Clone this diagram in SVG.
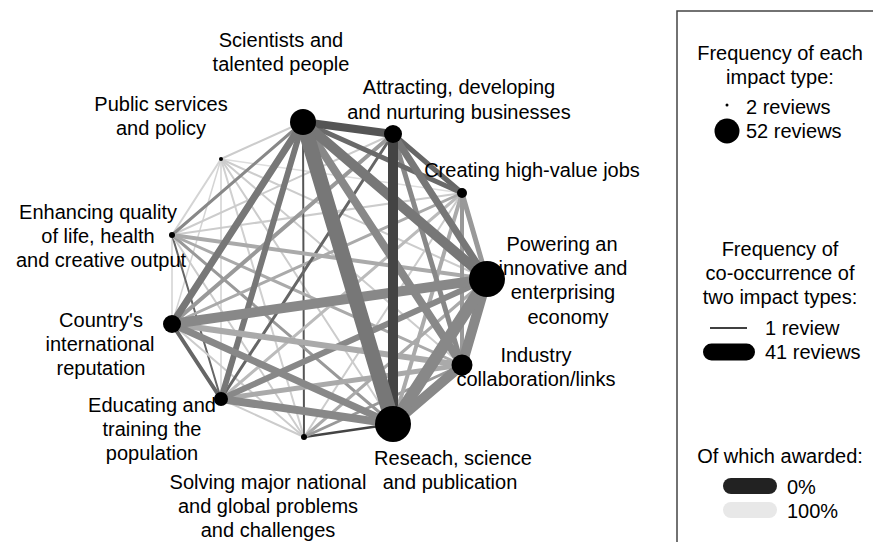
<svg xmlns="http://www.w3.org/2000/svg" width="873" height="542" viewBox="0 0 873 542">
<style>
text{font-family:"Liberation Sans",Arial,sans-serif;font-size:20px;fill:#000}
.lbl{text-anchor:middle}
#edges line{stroke-linecap:round}
.node{fill:#000}
</style>
<rect width="873" height="542" fill="#fff"/>
<g id="edges">
<line x1="221" y1="159" x2="462" y2="193" stroke="#dddddd" stroke-width="1.5"/>
<line x1="221" y1="159" x2="172" y2="235" stroke="#d4d4d4" stroke-width="2"/>
<line x1="221" y1="159" x2="221" y2="399" stroke="#dddddd" stroke-width="2"/>
<line x1="221" y1="159" x2="172" y2="324" stroke="#d4d4d4" stroke-width="1.5"/>
<line x1="221" y1="159" x2="304" y2="437" stroke="#d0d0d0" stroke-width="2"/>
<line x1="221" y1="159" x2="393" y2="424" stroke="#cccccc" stroke-width="2"/>
<line x1="221" y1="159" x2="462" y2="365" stroke="#cccccc" stroke-width="2"/>
<line x1="221" y1="159" x2="487" y2="279" stroke="#cccccc" stroke-width="2"/>
<line x1="221" y1="159" x2="303" y2="122" stroke="#cccccc" stroke-width="2"/>
<line x1="172" y1="235" x2="172" y2="324" stroke="#dddddd" stroke-width="2"/>
<line x1="172" y1="235" x2="221" y2="399" stroke="#666666" stroke-width="2"/>
<line x1="172" y1="235" x2="304" y2="437" stroke="#cccccc" stroke-width="2"/>
<line x1="172" y1="235" x2="462" y2="193" stroke="#cccccc" stroke-width="2"/>
<line x1="172" y1="235" x2="393" y2="134" stroke="#cccccc" stroke-width="2"/>
<line x1="172" y1="324" x2="304" y2="437" stroke="#cccccc" stroke-width="2"/>
<line x1="221" y1="399" x2="304" y2="437" stroke="#cccccc" stroke-width="2"/>
<line x1="462" y1="193" x2="304" y2="437" stroke="#cccccc" stroke-width="2"/>
<line x1="303" y1="122" x2="304" y2="437" stroke="#555555" stroke-width="2"/>
<line x1="393" y1="424" x2="304" y2="437" stroke="#444444" stroke-width="2.5"/>
<line x1="303" y1="122" x2="172" y2="235" stroke="#888888" stroke-width="3"/>
<line x1="172" y1="235" x2="393" y2="424" stroke="#999999" stroke-width="3"/>
<line x1="172" y1="235" x2="462" y2="365" stroke="#aaaaaa" stroke-width="3"/>
<line x1="487" y1="279" x2="304" y2="437" stroke="#aaaaaa" stroke-width="3"/>
<line x1="462" y1="365" x2="304" y2="437" stroke="#999999" stroke-width="3"/>
<line x1="462" y1="193" x2="221" y2="399" stroke="#bbbbbb" stroke-width="3"/>
<line x1="462" y1="193" x2="172" y2="324" stroke="#aaaaaa" stroke-width="3"/>
<line x1="393" y1="134" x2="221" y2="399" stroke="#666666" stroke-width="3"/>
<line x1="172" y1="235" x2="487" y2="279" stroke="#aaaaaa" stroke-width="4"/>
<line x1="393" y1="134" x2="172" y2="324" stroke="#999999" stroke-width="4"/>
<line x1="462" y1="193" x2="393" y2="424" stroke="#aaaaaa" stroke-width="4"/>
<line x1="462" y1="193" x2="462" y2="365" stroke="#999999" stroke-width="4"/>
<line x1="172" y1="324" x2="221" y2="399" stroke="#666666" stroke-width="4"/>
<line x1="393" y1="134" x2="462" y2="193" stroke="#666666" stroke-width="5"/>
<line x1="393" y1="134" x2="462" y2="365" stroke="#888888" stroke-width="5"/>
<line x1="303" y1="122" x2="462" y2="193" stroke="#6a6a6a" stroke-width="5"/>
<line x1="462" y1="193" x2="487" y2="279" stroke="#999999" stroke-width="5"/>
<line x1="221" y1="399" x2="462" y2="365" stroke="#aaaaaa" stroke-width="5"/>
<line x1="303" y1="122" x2="221" y2="399" stroke="#777777" stroke-width="6"/>
<line x1="221" y1="399" x2="487" y2="279" stroke="#888888" stroke-width="6"/>
<line x1="172" y1="324" x2="462" y2="365" stroke="#aaaaaa" stroke-width="6"/>
<line x1="303" y1="122" x2="172" y2="324" stroke="#777777" stroke-width="7"/>
<line x1="393" y1="134" x2="487" y2="279" stroke="#777777" stroke-width="7"/>
<line x1="172" y1="324" x2="393" y2="424" stroke="#888888" stroke-width="7"/>
<line x1="303" y1="122" x2="462" y2="365" stroke="#888888" stroke-width="8"/>
<line x1="221" y1="399" x2="393" y2="424" stroke="#888888" stroke-width="8"/>
<line x1="303" y1="122" x2="393" y2="134" stroke="#555555" stroke-width="8"/>
<line x1="172" y1="324" x2="487" y2="279" stroke="#888888" stroke-width="10"/>
<line x1="487" y1="279" x2="462" y2="365" stroke="#888888" stroke-width="10"/>
<line x1="462" y1="365" x2="393" y2="424" stroke="#888888" stroke-width="10"/>
<line x1="303" y1="122" x2="487" y2="279" stroke="#777777" stroke-width="10"/>
<line x1="393" y1="134" x2="393" y2="424" stroke="#444444" stroke-width="10"/>
<line x1="487" y1="279" x2="393" y2="424" stroke="#888888" stroke-width="12"/>
<line x1="303" y1="122" x2="393" y2="424" stroke="#777777" stroke-width="15"/>
</g>
<g id="n-scientists"><circle class="node" cx="303" cy="122" r="13"/><text class="lbl" x="281" y="47">Scientists and</text><text class="lbl" x="281" y="71">talented people</text></g>
<g id="n-attracting"><circle class="node" cx="393" cy="134" r="9"/><text class="lbl" x="459" y="94">Attracting, developing</text><text class="lbl" x="459" y="119">and nurturing businesses</text></g>
<g id="n-jobs"><circle class="node" cx="462" cy="193" r="5"/><text class="lbl" x="532" y="177">Creating high-value jobs</text></g>
<g id="n-powering"><circle class="node" cx="487" cy="279" r="18"/><text class="lbl" x="562" y="251">Powering an</text><text class="lbl" x="563" y="275">innovative and</text><text class="lbl" x="563" y="299">enterprising</text><text class="lbl" x="568" y="324">economy</text></g>
<g id="n-industry"><circle class="node" cx="462" cy="365" r="10.5"/><text class="lbl" x="536" y="362">Industry</text><text class="lbl" x="536" y="386">collaboration/links</text></g>
<g id="n-research"><circle class="node" cx="393" cy="424" r="18"/><text class="lbl" x="453" y="465">Reseach, science</text><text class="lbl" x="450" y="489">and publication</text></g>
<g id="n-solving"><circle class="node" cx="304" cy="437" r="3"/><text class="lbl" x="268" y="489">Solving major national</text><text class="lbl" x="268" y="513">and global problems</text><text class="lbl" x="268" y="537">and challenges</text></g>
<g id="n-educating"><circle class="node" cx="221" cy="399" r="7"/><text class="lbl" x="152" y="412">Educating and</text><text class="lbl" x="152" y="436">training the</text><text class="lbl" x="152" y="460">population</text></g>
<g id="n-country"><circle class="node" cx="172" cy="324" r="9"/><text class="lbl" x="101" y="327">Country's</text><text class="lbl" x="100" y="351">international</text><text class="lbl" x="101" y="375">reputation</text></g>
<g id="n-quality"><circle class="node" cx="172" cy="235" r="3"/><text class="lbl" x="98" y="219">Enhancing quality</text><text class="lbl" x="98" y="243">of life, health</text><text class="lbl" x="101" y="267">and creative output</text></g>
<g id="n-public"><circle class="node" cx="221" cy="159" r="2"/><text class="lbl" x="161" y="111">Public services</text><text class="lbl" x="161" y="135">and policy</text></g>
<g id="legend">
<rect x="677" y="11" width="210" height="545" fill="none" stroke="#444" stroke-width="1.5"/>
<text class="lbl" x="780" y="60">Frequency of each</text>
<text class="lbl" x="780" y="84">impact type:</text>
<circle cx="727" cy="105" r="1.5" fill="#000"/>
<text x="746" y="114">2 reviews</text>
<circle cx="727" cy="131" r="12.5" fill="#000"/>
<text x="746" y="138">52 reviews</text>
<text class="lbl" x="780" y="256">Frequency of</text>
<text class="lbl" x="780" y="280">co-occurrence of</text>
<text class="lbl" x="780" y="304">two impact types:</text>
<line x1="710" y1="328" x2="747" y2="328" stroke="#000" stroke-width="1.5"/>
<text x="765" y="335">1 review</text>
<line x1="711.5" y1="352" x2="746.5" y2="352" stroke="#000" stroke-width="17" stroke-linecap="round"/>
<text x="765" y="359">41 reviews</text>
<text class="lbl" x="780" y="463">Of which awarded:</text>
<line x1="731" y1="486" x2="769" y2="486" stroke="#222" stroke-width="16" stroke-linecap="round"/>
<text x="787" y="494">0%</text>
<line x1="731" y1="510" x2="769" y2="510" stroke="#e8e8e8" stroke-width="16" stroke-linecap="round"/>
<text x="787" y="518">100%</text>
</g>
</svg>
